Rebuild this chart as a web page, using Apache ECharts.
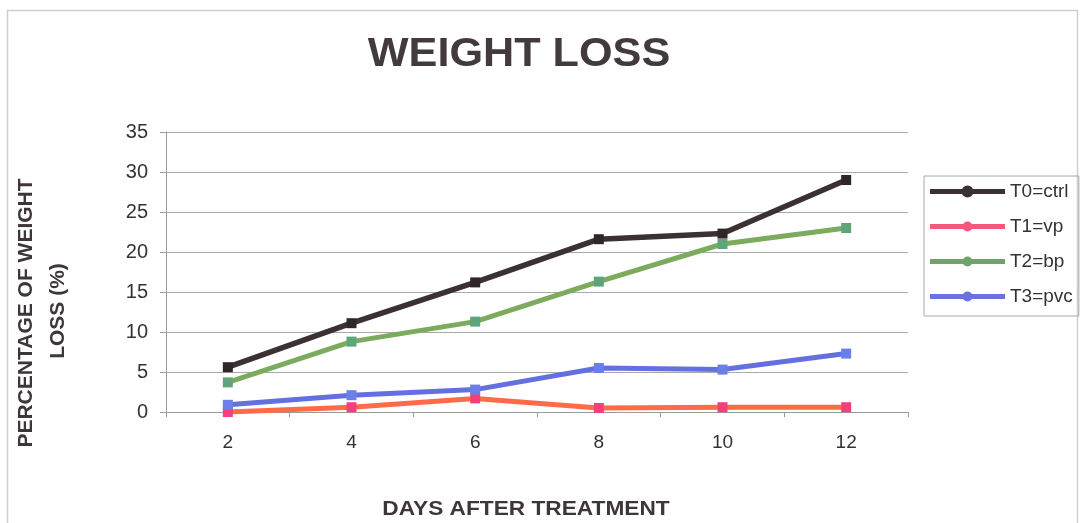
<!DOCTYPE html>
<html>
<head>
<meta charset="utf-8">
<title>Weight loss</title>
<script src="https://cdn.jsdelivr.net/npm/echarts@6/dist/echarts.min.js"></script>
<style>
  html, body { margin: 0; padding: 0; background: #ffffff; }
  #chart { width: 1081px; height: 523px; }
</style>
</head>
<body>
<div id="chart"></div>
<script>
// Days after treatment (x categories)
const days = ['2', '4', '6', '8', '10', '12'];

// Percentage of weight loss per treatment
const ctrl = [5.6, 11.1, 16.2, 21.6, 22.3, 29.0];
const vp   = [0.0, 0.6, 1.7, 0.5, 0.6, 0.6];
const bp   = [3.7, 8.8, 11.3, 16.3, 21.0, 23.0];
const pvc  = [0.9, 2.1, 2.8, 5.5, 5.3, 7.3];

const seriesNames = ['T0=ctrl', 'T1=vp', 'T2=bp', 'T3=pvc'];

// Y axis ticks
const yMin = 0, yMax = 35, yStep = 5;

const FONT = '"Liberation Sans", Arial, sans-serif';

// Legend icons: a thick line with a round marker in the middle
const legendIconBig = 'path://M0,4L75,4L75,9L0,9Z M31.5,6.5A6,6,0,1,1,43.5,6.5A6,6,0,1,1,31.5,6.5Z';
const legendIconSmall = 'path://M0,5L75,5L75,10L0,10Z M32.5,7.5A5,5,0,1,1,42.5,7.5A5,5,0,1,1,32.5,7.5Z';

const styles = [
  { line: '#3b3133', marker: '#2f2628', legend: '#3b3133', width: 5.5, icon: legendIconBig },
  { line: '#ff6b48', marker: '#f2407c', legend: '#f5587a', width: 5, icon: legendIconSmall },
  { line: '#7cab5e', marker: '#5ea57c', legend: '#6fa36a', width: 5, icon: legendIconSmall },
  { line: '#6470e0', marker: '#6a7fe8', legend: '#6a72dd', width: 5, icon: legendIconSmall }
];
const values = [ctrl, vp, bp, pvc];

const chart = echarts.init(document.getElementById('chart'), null, { renderer: 'canvas' });

const option = {
  backgroundColor: '#ffffff',
  animation: false,
  grid: { left: 166, right: 173, top: 132, bottom: 111, containLabel: false },
  legend: {
    orient: 'vertical',
    left: 924,
    top: 176,
    padding: [6, 6, 10, 6],
    itemGap: 16,
    itemWidth: 75,
    itemHeight: 14,
    borderColor: '#a8a8a8',
    borderWidth: 1,
    textStyle: { fontFamily: FONT, fontSize: 19, color: '#333333' },
    data: seriesNames.map((n, i) => ({
      name: n,
      icon: styles[i].icon,
      itemStyle: { color: styles[i].legend }
    }))
  },
  xAxis: {
    type: 'category',
    data: days,
    boundaryGap: true,
    axisLine: { show: true, lineStyle: { color: '#9a9a9a', width: 1 } },
    axisTick: { show: true, inside: false, length: 5, alignWithLabel: false, lineStyle: { color: '#9a9a9a' } },
    axisLabel: { fontFamily: FONT, fontSize: 19, color: '#333333', margin: 21 },
    splitLine: { show: false }
  },
  yAxis: {
    type: 'value',
    min: yMin,
    max: yMax,
    interval: yStep,
    axisLine: { show: true, lineStyle: { color: '#9a9a9a', width: 1 } },
    axisTick: { show: true, inside: false, length: 6, lineStyle: { color: '#9a9a9a' } },
    axisLabel: { fontFamily: FONT, fontSize: 20, color: '#333333', margin: 18 },
    splitLine: { show: true, lineStyle: { color: '#a8a8a8', width: 1 } }
  },
  series: seriesNames.map((n, i) => ({
    name: n,
    type: 'line',
    data: values[i],
    symbol: 'rect',
    symbolSize: 10,
    showAllSymbol: true,
    lineStyle: { color: styles[i].line, width: styles[i].width },
    itemStyle: { color: styles[i].marker, borderWidth: 0 },
    emphasis: { disabled: true }
  })),
  graphic: [
    // outer chart frame
    {
      type: 'rect',
      silent: true,
      shape: { x: 7.5, y: 10.5, width: 1070, height: 530 },
      style: { fill: 'none', stroke: '#cfcfcf', lineWidth: 1.5 }
    },
    {
      type: 'text',
      x: 519, y: 55,
      scaleX: 1.08,
      silent: true,
      style: {
        text: 'WEIGHT LOSS',
        fontFamily: FONT, fontWeight: 'bold', fontSize: 40,
        fill: '#433a3d', align: 'center', verticalAlign: 'middle'
      }
    },
    {
      type: 'text',
      x: 526, y: 509,
      scaleX: 1.08,
      silent: true,
      style: {
        text: 'DAYS AFTER TREATMENT',
        fontFamily: FONT, fontWeight: 'bold', fontSize: 21,
        fill: '#3f3638', align: 'center', verticalAlign: 'middle'
      }
    },
    {
      type: 'text',
      x: 26, y: 313,
      rotation: Math.PI / 2,
      silent: true,
      style: {
        text: 'PERCENTAGE OF WEIGHT',
        fontFamily: FONT, fontWeight: 'bold', fontSize: 21,
        fill: '#3f3638', align: 'center', verticalAlign: 'middle'
      }
    },
    {
      type: 'text',
      x: 58, y: 311,
      rotation: Math.PI / 2,
      silent: true,
      style: {
        text: 'LOSS (%)',
        fontFamily: FONT, fontWeight: 'bold', fontSize: 21,
        fill: '#3f3638', align: 'center', verticalAlign: 'middle'
      }
    }
  ]
};

chart.setOption(option);
</script>
</body>
</html>
